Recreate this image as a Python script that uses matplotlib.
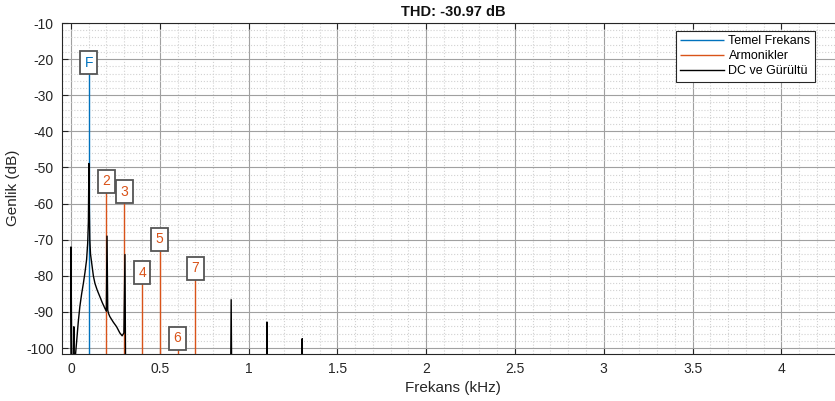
import numpy as np
import matplotlib.pyplot as plt

plt.rcParams['font.family'] = ['Liberation Sans', 'DejaVu Sans']
plt.rcParams['axes.unicode_minus'] = False

# fundamental and harmonics (kHz, dB)
fund_f = [0.1]
fund_db = [-21.0]
fund_label = ["F"]

harm_f = [0.2, 0.3, 0.4, 0.5, 0.6, 0.7]
harm_db = [-53.8, -56.7, -79.1, -69.9, -97.3, -77.9]
harm_label = ["2", "3", "4", "5", "6", "7"]

# DC and noise spectrum (values below the axis floor are just off-scale)
noise_f = [0.0, 0.0, 0.008, 0.016, 0.021, 0.026, 0.033, 0.041, 0.050, 0.060,
           0.070, 0.079, 0.088, 0.094, 0.098, 0.101, 0.103, 0.106, 0.110,
           0.117, 0.126, 0.135, 0.148, 0.163, 0.177, 0.191, 0.199, 0.203,
           0.207, 0.212, 0.219, 0.238, 0.257, 0.275, 0.288, 0.298, 0.304,
           0.310, 0.896, 0.902, 0.908, 1.098, 1.104, 1.110, 1.296, 1.302,
           1.308, 4.4]
noise_db = [-130, -72.0, -130, -94.1, -130, -101.5, -97.5, -92.8, -88.5, -85.0,
            -82.0, -79.0, -75.5, -71.0, -65.0, -48.9, -60.0, -70.0, -74.0,
            -76.6, -80.0, -82.1, -84.0, -85.8, -87.5, -89.0, -89.8, -69.0,
            -89.5, -90.5, -91.3, -92.8, -94.1, -95.8, -96.6, -95.8, -74.1,
            -130, -130, -86.6, -130, -130, -92.8, -130, -130, -97.4,
            -130, -130]

x_ticks = [0, 0.5, 1, 1.5, 2, 2.5, 3, 3.5, 4]
x_tick_labels = ["0", "0.5", "1", "1.5", "2", "2.5", "3", "3.5", "4"]
y_ticks = [-100, -90, -80, -70, -60, -50, -40, -30, -20, -10]

blue = "#0072BD"
orange = "#D95319"
dark = "#262626"

fig = plt.figure(figsize=(8.35, 4.01), dpi=100)
ax = fig.add_axes([62.1 / 835, 47.5 / 401, 781.4 / 835, 330.5 / 401])

floor = -130
ax.vlines(fund_f, floor, fund_db, color=blue, lw=1, label="Temel Frekans")
ax.vlines(harm_f, floor, harm_db, color=orange, lw=1, label="Armonikler")
ax.plot(noise_f, noise_db, color="black", lw=1, label="DC ve Gürültü")

box = dict(boxstyle="square,pad=0.32", facecolor="white", edgecolor="#555555", lw=1.3)
for f, d, s in zip(fund_f, fund_db, fund_label):
    ax.text(f, d, s, color=blue, fontsize=10, ha="center", va="center", bbox=box, zorder=5)
for f, d, s in zip(harm_f, harm_db, harm_label):
    ax.text(f, d, s, color=orange, fontsize=10, ha="center", va="center", bbox=box, zorder=5)

ax.set_xlim(-0.05, 4.35)
ax.set_ylim(-101.5, -10)
ax.set_xticks(x_ticks)
ax.set_xticklabels(x_tick_labels)
ax.set_yticks(y_ticks)
ax.set_xticks(np.arange(-0.0, 4.4, 0.1), minor=True)
ax.set_yticks(np.arange(-100, -10, 2), minor=True)
ax.tick_params(which="major", direction="in", length=4, top=True, right=True,
               colors=dark, labelsize=10, pad=6)
ax.tick_params(which="minor", length=0)
ax.grid(True, which="major", color="#a0a0a0", lw=0.8)
ax.grid(True, which="minor", color="#d2d2d2", lw=0.8, ls=":")
ax.set_axisbelow(True)
for sp in ax.spines.values():
    sp.set_color(dark)
    sp.set_linewidth(0.8)

ax.set_title("THD: -30.97 dB", fontsize=10.5, fontweight="bold", color="#111111", pad=5)
ax.set_xlabel("Frekans (kHz)", fontsize=11, color=dark, labelpad=4)
ax.set_ylabel("Genlik (dB)", fontsize=11, color=dark, labelpad=4)

leg = ax.legend(loc="upper left", bbox_to_anchor=(676 / 835, 1 - 30.7 / 401),
                bbox_transform=fig.transFigure, borderaxespad=0, fontsize=9,
                labelspacing=0.25, handlelength=3.45, handletextpad=0.4,
                borderpad=0.35, fancybox=False, framealpha=1, edgecolor=dark)
leg.get_frame().set_linewidth(0.8)

fig.savefig("out.png", dpi=100)
